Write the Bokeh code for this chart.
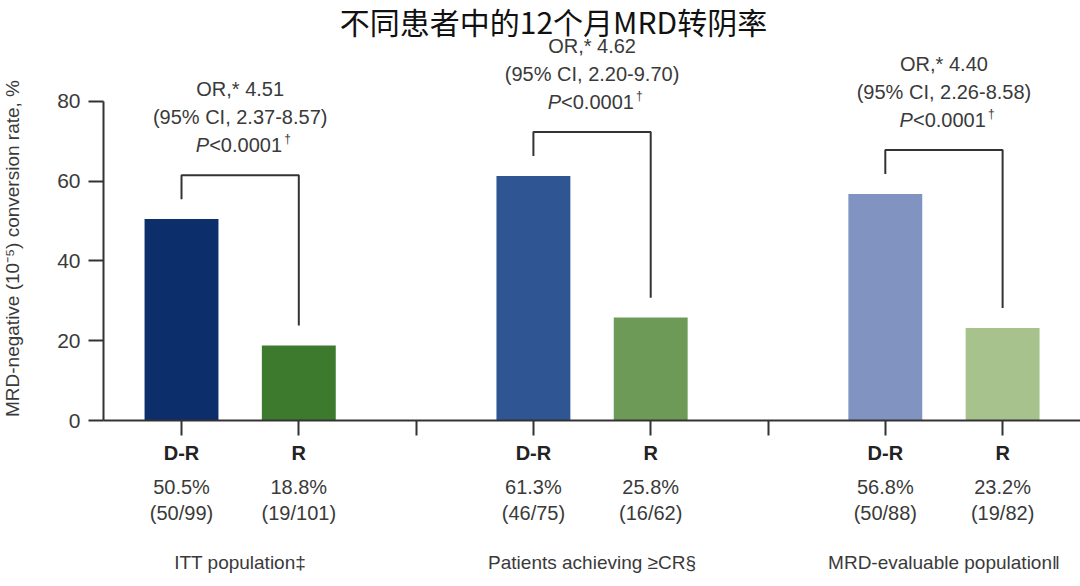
import math
from bokeh.plotting import figure
from bokeh.layouts import row
from bokeh.models import FixedTicker, LinearAxis, Range1d
from bokeh.core.properties import value
from bokeh.embed import file_html
from bokeh.resources import INLINE

# ---------------- data ----------------
title_text = "不同患者中的12个月MRD转阴率"
y_label = "MRD-negative (10\u207b\u2075) conversion rate, %"
groups = ["ITT population\u2021", "Patients achieving \u2265CR\u00a7", "MRD-evaluable population\u2016"]
arms = ["D-R", "R"]
dr_rate = [50.5, 61.3, 56.8]
r_rate = [18.8, 25.8, 23.2]
dr_counts = ["(50/99)", "(46/75)", "(50/88)"]
r_counts = ["(19/101)", "(16/62)", "(19/82)"]
odds_ratio = ["4.51", "4.62", "4.40"]
ci_range = ["2.37-8.57", "2.20-9.70", "2.26-8.58"]
p_value = ["<0.0001", "<0.0001", "<0.0001"]
dr_colors = ["#0c2f6c", "#2f5592", "#8193c0"]
r_colors = ["#3e7a2e", "#6e9a57", "#a8c28d"]
y_ticks = [0, 20, 40, 60, 80]

# ---------------- style / layout ----------------
FONT = "Liberation Sans"
INK = "#333333"
TXT = "#3a3a3a"
LEFT_W = 30                       # strip that holds the y-axis title
X_START, X_END = 0.335, 8.664
Y_END = 105.3
PX_X = 977 / (X_END - X_START)   # pixels per x unit
PX_Y = 420 / Y_END               # pixels per y unit

dr_x = [3 * g + 1 for g in range(3)]
r_x = [3 * g + 2 for g in range(3)]
sep_x = [3, 6]
mid_x = [3 * g + 1.5 for g in range(3)]

# ---- strip with the y-axis title (its frame lines up with the main frame: 0..420 px) ----
side = figure(width=LEFT_W, height=586, x_range=Range1d(0, LEFT_W), y_range=Range1d(420, 0),
              output_backend="svg", toolbar_location=None,
              min_border=0, outline_line_color=None)
side.axis.visible = False
side.grid.visible = False
side.text(x=[12], y=[248], text=[y_label], angle=math.pi / 2,
          text_align="center", text_baseline="middle", text_font=value(FONT),
          text_font_size="19px", text_color=TXT)

# ---- main chart ----
p = figure(width=1080 - LEFT_W, height=586, x_range=Range1d(X_START, X_END), y_range=Range1d(0, Y_END),
           output_backend="svg", toolbar_location=None,
           min_border_left=103 - LEFT_W, min_border_right=0, min_border_bottom=166, min_border_top=0)
p.outline_line_color = None
p.xgrid.visible = False
p.ygrid.visible = False
p.background_fill_color = "white"
p.border_fill_color = "white"

# title (drawn as text at the top of the canvas)
p.text(x=[X_START + (553 - 103) / PX_X], y=[Y_END - 20 / PX_Y], text=[title_text],
       text_align="center", text_baseline="middle", text_font=value("Noto Sans CJK SC"),
       text_font_size="30px", text_color="#111111")

# bars
p.vbar(x=dr_x, top=dr_rate, width=0.63, fill_color=dr_colors, line_color=None)
p.vbar(x=r_x, top=r_rate, width=0.63, fill_color=r_colors, line_color=None)

# brackets
LEG_GAP = 5.0
TOP_GAP = 11.0
xs, ys = [], []
for g in range(3):
    top = dr_rate[g] + TOP_GAP
    xs.append([dr_x[g], dr_x[g], r_x[g], r_x[g]])
    ys.append([dr_rate[g] + LEG_GAP, top, top, r_rate[g] + LEG_GAP])
p.multi_line(xs=xs, ys=ys, line_color=INK, line_width=2)

# annotations
tops = [d + TOP_GAP for d in dr_rate]
ANN = "20px"
p.text(x=mid_x, y=[t + 21.5 for t in tops], text=["OR,* " + o for o in odds_ratio],
       text_align="center", text_baseline="middle", text_font=value(FONT),
       text_font_size=ANN, text_color=TXT)
p.text(x=mid_x, y=[t + 14.5 for t in tops], text=["(95% CI, " + c + ")" for c in ci_range],
       text_align="center", text_baseline="middle", text_font=value(FONT),
       text_font_size=ANN, text_color=TXT)
p.text(x=mid_x, y=[t + 7.5 for t in tops], text=["P"] * 3, x_offset=-31,
       text_align="right", text_baseline="middle", text_font=value(FONT),
       text_font_size=ANN, text_font_style="italic", text_color=TXT)
p.text(x=mid_x, y=[t + 7.5 for t in tops], text=[" " + v for v in p_value], x_offset=-31,
       text_align="left", text_baseline="middle", text_font=value(FONT),
       text_font_size=ANN, text_color=TXT)
p.text(x=mid_x, y=[t + 7.5 for t in tops], text=["\u2020"] * 3, x_offset=44, y_offset=-6,
       text_align="left", text_baseline="middle", text_font=value(FONT),
       text_font_size="12px", text_color=TXT)

# y axis
ya = p.yaxis[0]
ya.bounds = (0, 80)
ya.ticker = FixedTicker(ticks=y_ticks)
ya.axis_line_width = 2
ya.axis_line_color = INK
ya.major_tick_line_width = 2
ya.major_tick_line_color = INK
ya.major_tick_out = 15
ya.major_tick_in = 0
ya.minor_tick_line_color = None
ya.major_label_text_font = FONT
ya.major_label_text_font_size = "21px"
ya.major_label_text_color = TXT
ya.major_label_standoff = 8

# x axis (arm names)
xa = p.xaxis[0]
xa.ticker = FixedTicker(ticks=sorted(dr_x + r_x + sep_x))
overrides = {}
for g in range(3):
    overrides[dr_x[g]] = arms[0]
    overrides[r_x[g]] = arms[1]
for s in sep_x:
    overrides[s] = ""
xa.major_label_overrides = overrides
xa.axis_line_width = 2
xa.axis_line_color = INK
xa.major_tick_line_width = 2
xa.major_tick_line_color = INK
xa.major_tick_out = 15
xa.major_tick_in = 0
xa.minor_tick_line_color = None
xa.major_label_text_font = FONT
xa.major_label_text_font_size = "20px"
xa.major_label_text_font_style = "bold"
xa.major_label_text_color = "#222222"
xa.major_label_standoff = 6


def label_axis(ticks, labels, standoff, size="20px"):
    ax = LinearAxis(ticker=FixedTicker(ticks=ticks),
                    major_label_overrides={t: l for t, l in zip(ticks, labels)})
    ax.axis_line_color = None
    ax.major_tick_line_color = None
    ax.minor_tick_line_color = None
    ax.major_tick_out = 0
    ax.major_tick_in = 0
    ax.major_label_text_font = FONT
    ax.major_label_text_font_size = size
    ax.major_label_text_color = TXT
    ax.major_label_standoff = standoff
    p.add_layout(ax, "below")
    return ax


pct_ticks, pct_labels, cnt_labels = [], [], []
for g in range(3):
    pct_ticks += [dr_x[g], r_x[g]]
    pct_labels += [f"{dr_rate[g]}%", f"{r_rate[g]}%"]
    cnt_labels += [dr_counts[g], r_counts[g]]

label_axis(pct_ticks, pct_labels, 9)
label_axis(pct_ticks, cnt_labels, 1)
label_axis(mid_x, groups, 25, "19px")

layout = row(side, p, spacing=0)
open("out.html", "w").write(file_html(layout, INLINE))
